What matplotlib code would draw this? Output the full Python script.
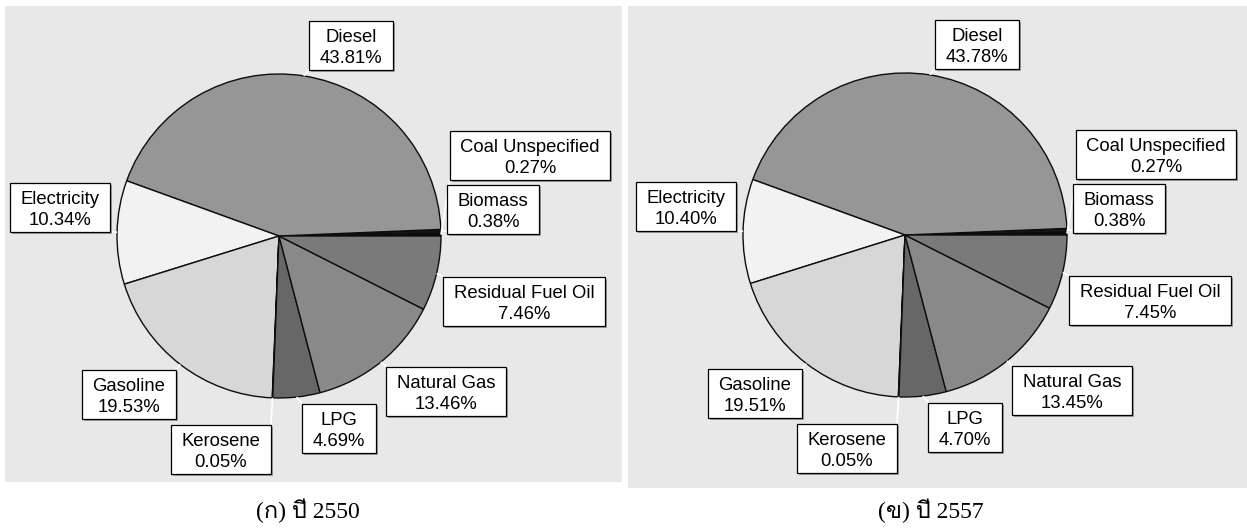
import numpy as np
import matplotlib
matplotlib.use("Agg")
import matplotlib.pyplot as plt
from matplotlib import font_manager
from matplotlib.ft2font import FT2Font
from matplotlib.patches import Rectangle

W, H = 1247, 532

fuels = ["Coal Unspecified", "Biomass", "Diesel", "Electricity", "Gasoline",
         "Kerosene", "LPG", "Natural Gas", "Residual Fuel Oil"]
share_2550 = [0.27, 0.38, 43.81, 10.34, 19.53, 0.05, 4.69, 13.46, 7.46]
share_2557 = [0.27, 0.38, 43.78, 10.40, 19.51, 0.05, 4.70, 13.45, 7.45]
captions = ["(ก) ปี 2550", "(ข) ปี 2557"]

grays = ["#0a0a0a", "#151515", "#969696", "#f2f2f2", "#d7d7d7",
         "#101010", "#676767", "#898989", "#7a7a7a"]

# label box centres as offsets from the pie centre, pixels (x right, y down)
label_off = {
    "Coal Unspecified": (251, -81),
    "Biomass": (214, -27),
    "Diesel": (72, -191),
    "Electricity": (-219, -29),
    "Gasoline": (-150, 158),
    "Kerosene": (-58, 213),
    "LPG": (60, 192),
    "Natural Gas": (167, 155),
    "Residual Fuel Oil": (245, 65),
}

panels = [
    dict(rect=(5, 6, 622, 482), centre=(279, 236), vals=share_2550, cap_x=308),
    dict(rect=(628, 6, 1247, 488), centre=(905, 235), vals=share_2557, cap_x=931),
]
R = 162


def thai_family():
    # first installed face that carries Thai glyphs, for the captions
    for f in font_manager.fontManager.ttflist:
        try:
            if 0x0E1B in FT2Font(f.fname).get_charmap():
                return f.name
        except Exception:
            pass
    return None


def Y(y):
    return H - y


thai = thai_family()
cap_family = ["Liberation Serif"] + ([thai] if thai else [])

fig = plt.figure(figsize=(W / 100, H / 100), dpi=100)
fig.patch.set_facecolor("white")

label_font = dict(family="Liberation Sans", fontsize=13.3, color="black")
pending = []
for i, p in enumerate(panels):
    x0, y0, x1, y1 = p["rect"]
    ax = fig.add_axes([x0 / W, 1 - y1 / H, (x1 - x0) / W, (y1 - y0) / H])
    ax.set_facecolor("#e8e8e8")
    cx, cy = p["centre"]
    wedges, _ = ax.pie(p["vals"], colors=grays, startangle=0, counterclock=True,
                       center=(cx, Y(cy)), radius=R, frame=True,
                       wedgeprops=dict(edgecolor="#0d0d0d", linewidth=1.0))
    ax.set_xlim(x0, x1)
    ax.set_ylim(Y(y1), Y(y0))
    ax.set_aspect("auto")
    ax.set_xticks([])
    ax.set_yticks([])
    for s in ax.spines.values():
        s.set_visible(False)

    for w, name, v in zip(wedges, fuels, p["vals"]):
        dx, dy = label_off[name]
        bx, by = cx + dx, Y(cy + dy)
        t1 = ax.text(bx, by + 3, name, ha="center", va="baseline", zorder=7, **label_font)
        t2 = ax.text(bx, by - 18.3, f"{v:.2f}%", ha="center", va="baseline", zorder=7,
                     **label_font)
        mid = np.radians((w.theta1 + w.theta2) / 2)
        edge = (cx + R * np.cos(mid), Y(cy) + R * np.sin(mid))
        pending.append((ax, bx, by, t1, t2, edge))

    fig.text(p["cap_x"] / W, 1 - 518 / H, captions[i],
             ha="center", va="baseline", fontsize=17, family=cap_family)

fig.canvas.draw()
for ax, bx, by, t1, t2, edge in pending:
    w = max(t1.get_window_extent().width, t2.get_window_extent().width) + 21
    h = 49
    left, bottom = bx - w / 2, by - h / 2
    ax.add_patch(Rectangle((left + 2, bottom - 2), w, h, facecolor="#a0a0a0",
                           edgecolor="none", zorder=5))
    ax.add_patch(Rectangle((left, bottom), w, h, facecolor="white",
                           edgecolor="black", linewidth=0.9, zorder=6))
    # white leader from the slice rim to the nearest point of its box
    ex, ey = edge
    nx = min(max(ex, left), left + w)
    ny = min(max(ey, bottom), bottom + h)
    ax.plot([ex, nx], [ey, ny], color="white", lw=1.2, zorder=4,
            solid_capstyle="butt")

fig.savefig("out.png", dpi=100)
